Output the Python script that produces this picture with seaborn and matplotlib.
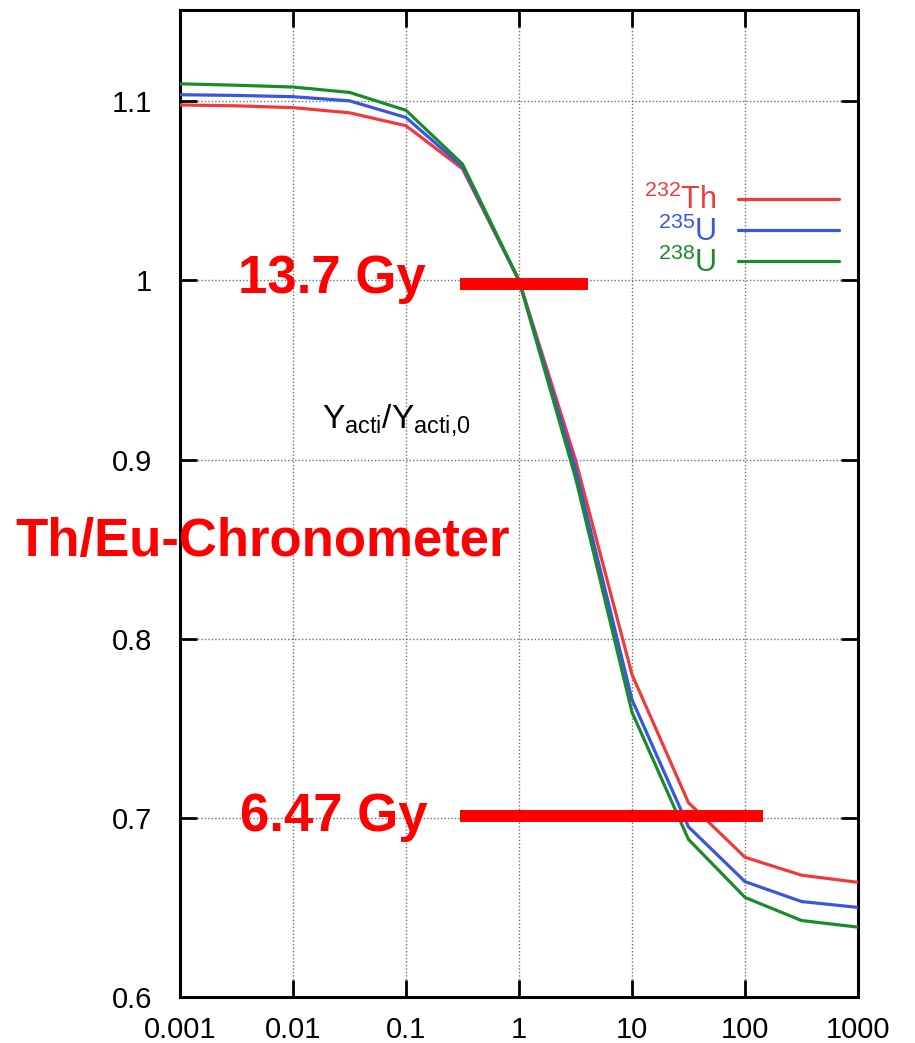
import numpy as np
import pandas as pd
import matplotlib
matplotlib.use("Agg")
import matplotlib.pyplot as plt
from matplotlib.ticker import FixedLocator, NullLocator
import seaborn as sns

# Time grid (half-decade steps) and relative actinide abundances
time = [0.001, 0.00316, 0.01, 0.0316, 0.1, 0.316, 1.0, 3.16, 10.0, 31.6, 100.0, 316.0, 1000.0]
th232 = [1.098, 1.0975, 1.0965, 1.0936, 1.0864, 1.0624, 1.0, 0.900, 0.780, 0.7085, 0.678, 0.668, 0.664]
u235 = [1.1037, 1.1033, 1.1026, 1.1003, 1.091, 1.0635, 1.0, 0.895, 0.766, 0.695, 0.6644, 0.6533, 0.650]
u238 = [1.1098, 1.109, 1.108, 1.105, 1.095, 1.065, 1.0, 0.890, 0.759, 0.688, 0.6556, 0.6427, 0.639]

series_names = [r"$^{232}$Th", r"$^{235}$U", r"$^{238}$U"]
series_colors = ["#f03a3a", "#3a55e0", "#1a8a2a"]

x_ticks = [0.001, 0.01, 0.1, 1, 10, 100, 1000]
x_ticklabels = ["0.001", "0.01", "0.1", "1", "10", "100", "1000"]
y_ticks = [0.6, 0.7, 0.8, 0.9, 1.0, 1.1]
y_ticklabels = ["0.6", "0.7", "0.8", "0.9", "1", "1.1"]

# Age markers: label, abundance ratio level, time span of the bar
age_labels = ["13.7 Gy", "6.47 Gy"]
age_levels = [0.998, 0.701]
age_spans = [(0.30, 4.08), (0.30, 144.0)]

df = pd.DataFrame({
    "time": time * 3,
    "ratio": th232 + u235 + u238,
    "nuclide": [series_names[0]] * len(time) + [series_names[1]] * len(time) + [series_names[2]] * len(time),
})

sns.set_theme(style="ticks")
plt.rcParams["font.family"] = ["Liberation Sans", "DejaVu Sans"]
plt.rcParams["mathtext.fontset"] = "custom"
plt.rcParams["mathtext.rm"] = "Liberation Sans"
plt.rcParams["mathtext.it"] = "Liberation Sans"
plt.rcParams["mathtext.default"] = "regular"

W, H = 915, 1043
fig = plt.figure(figsize=(W / 100, H / 100), dpi=100)
ax = fig.add_axes([180 / W, 1 - 997 / H, (858 - 180) / W, (997 - 10) / H])

sns.lineplot(data=df, x="time", y="ratio", hue="nuclide", hue_order=series_names,
             palette=series_colors, estimator=None, sort=False, linewidth=2.3,
             legend=False, ax=ax, zorder=3)

ax.set_xscale("log")
ax.set_xlim(0.001, 1000)
ax.set_ylim(0.6, 1.151)
ax.xaxis.set_major_locator(FixedLocator(x_ticks))
ax.xaxis.set_minor_locator(NullLocator())
ax.set_xticklabels(x_ticklabels)
ax.set_yticks(y_ticks)
ax.set_yticklabels(y_ticklabels)
ax.set_xlabel("")
ax.set_ylabel("")

ax.grid(True, which="major", linestyle=(0, (1, 1.5)), linewidth=1.0, color="#6f6f6f", zorder=0)
ax.tick_params(which="major", direction="in", top=True, right=True, length=12, width=2,
               labelsize=21, colors="black")
ax.tick_params(axis="y", pad=20)
ax.tick_params(axis="x", pad=14)
for sp in ax.spines.values():
    sp.set_linewidth(2.2)
    sp.set_color("black")

# Legend with the sample line to the right of each label
handles = [plt.Line2D([], [], color=c, linewidth=2.3) for c in series_colors]
leg = ax.legend(handles, series_names, loc="upper right", frameon=False,
                markerfirst=False, labelcolor="linecolor", fontsize=22,
                handlelength=3.3, handletextpad=0.7, labelspacing=0.0,
                borderpad=0, borderaxespad=0,
                bbox_to_anchor=(839 / W, 1 - 185 / H), bbox_transform=fig.transFigure)

# Ratio label inside the panel
fig.text(322 / W, 1 - 428 / H, r"$Y_{acti}/Y_{acti{,}0}$", fontsize=24, color="black",
         ha="left", va="baseline")

# Age markers
for lvl, (x0, x1) in zip(age_levels, age_spans):
    ax.plot([x0, x1], [lvl, lvl], color="#ff0000", linewidth=8.6, solid_capstyle="butt", zorder=4)

fig.text(238 / W, 1 - 293 / H, age_labels[0], fontsize=38, fontweight="bold", color="#ff0000",
         ha="left", va="baseline")
fig.text(240 / W, 1 - 831 / H, age_labels[1], fontsize=38, fontweight="bold", color="#ff0000",
         ha="left", va="baseline")
fig.text(15 / W, 1 - 556 / H, "Th/Eu-Chronometer", fontsize=38, fontweight="bold", color="#ff0000",
         ha="left", va="baseline")

fig.savefig("out.png", dpi=100)
